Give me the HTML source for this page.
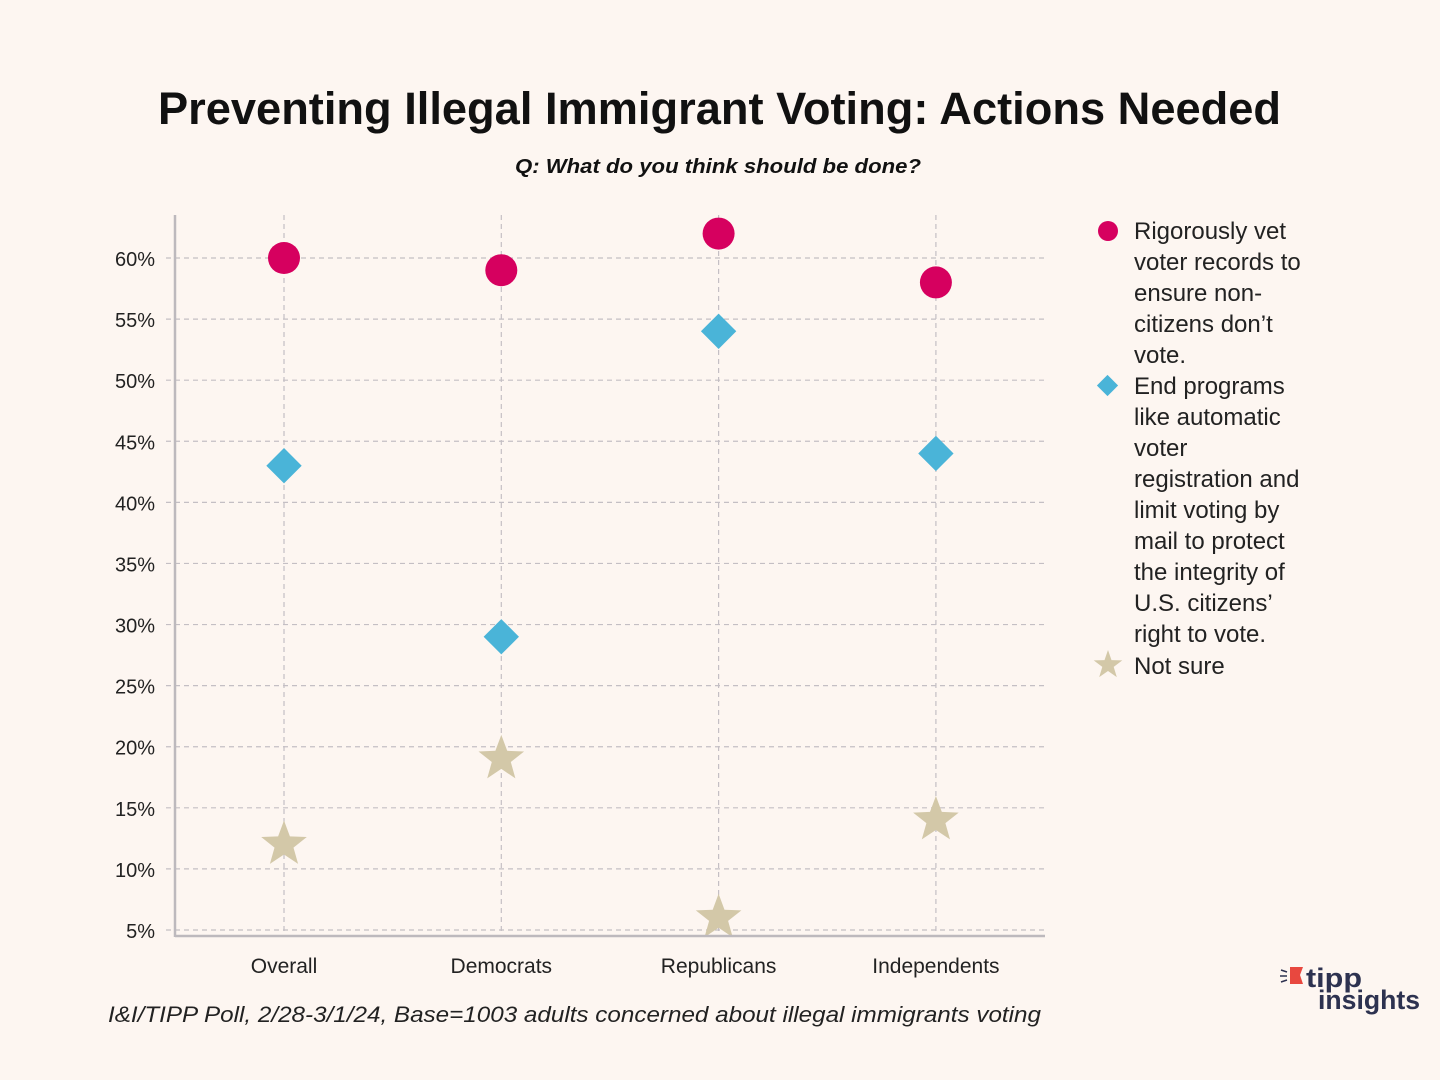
<!DOCTYPE html>
<html><head><meta charset="utf-8"><style>
body{margin:0;background:#fdf6f1;}
svg{display:block;font-family:"Liberation Sans",sans-serif;}
</style></head><body>
<svg id="chart" width="1440" height="1080" viewBox="0 0 1440 1080">
<rect width="1440" height="1080" fill="#fdf6f1"/>
<text x="158" y="124" textLength="1123" lengthAdjust="spacingAndGlyphs" font-size="45" font-weight="bold" fill="#111">Preventing Illegal Immigrant Voting: Actions Needed</text>
<text x="515" y="173" textLength="406" lengthAdjust="spacingAndGlyphs" font-size="20" font-style="italic" font-weight="bold" fill="#111">Q: What do you think should be done?</text>
<g id="grid"></g>
<g id="marks"></g>
<line x1="175" y1="215" x2="175" y2="937" stroke="#bdb9bd" stroke-width="2.5"/>
<line x1="175" y1="936" x2="1045" y2="936" stroke="#bdb9bd" stroke-width="2.5"/>
<g font-size="24" fill="#222">
<g>
<circle cx="1108" cy="231" r="10" fill="#d6005f"/>
<text x="1134" y="239">Rigorously vet</text><text x="1134" y="270">voter records to</text><text x="1134" y="301">ensure non-</text><text x="1134" y="332">citizens don’t</text><text x="1134" y="363">vote.</text></g>
<g>
<rect x="1100" y="378" width="15" height="15" fill="#4ab4d8" transform="rotate(45 1107.5 385.5)"/>
<text x="1134" y="394">End programs</text><text x="1134" y="425">like automatic</text><text x="1134" y="456">voter</text><text x="1134" y="487">registration and</text><text x="1134" y="518">limit voting by</text><text x="1134" y="549">mail to protect</text><text x="1134" y="580">the integrity of</text><text x="1134" y="611">U.S. citizens’</text><text x="1134" y="642">right to vote.</text></g>
<g>
<polygon id="legstar" fill="#d3c8a8"/>
<text x="1134" y="674">Not sure</text></g>
</g>
<text x="108" y="1022" textLength="933" lengthAdjust="spacingAndGlyphs" font-size="22" font-style="italic" fill="#222">I&amp;I/TIPP Poll, 2/28-3/1/24, Base=1003 adults concerned about illegal immigrants voting</text>
<g>
<path d="M1281,970 l6,2 M1280,976 h7 M1281,982 l6,-2" stroke="#2d3250" stroke-width="1.5"/>
<polygon points="1290,967 1303,967 1300,975 1303,984 1290,984" fill="#e8483f"/>
<text x="1306" y="987" font-size="27" font-weight="bold" fill="#2d3250" textLength="56" lengthAdjust="spacingAndGlyphs">tipp</text>
<text x="1318" y="1009" font-size="27" font-weight="bold" fill="#2d3250" textLength="102" lengthAdjust="spacingAndGlyphs">insights</text>
</g>
</svg>
<script>
const categories=["Overall","Democrats","Republicans","Independents"];
const vetValues=[60,59,62,58];
const endValues=[43,29,54,44];
const notSureValues=[12,19,6,14];
const yTicks=[5,10,15,20,25,30,35,40,45,50,55,60];
const NS="http://www.w3.org/2000/svg";
function yScale(v){return 258+(60-v)*12.218;}
function xScale(i){return 284+i*217.3;}
function mk(t,a,p){const e=document.createElementNS(NS,t);for(const k in a)e.setAttribute(k,a[k]);p.appendChild(e);return e;}
function starPts(cx,cy,R,r){let p=[];for(let i=0;i<10;i++){const a=-Math.PI/2+i*Math.PI/5;const rr=i%2?r:R;p.push((cx+rr*Math.cos(a)).toFixed(1)+","+(cy+rr*Math.sin(a)).toFixed(1));}return p.join(" ");}
const grid=document.getElementById('grid'),marks=document.getElementById('marks');
yTicks.forEach(v=>{const y=yScale(v);
const l=mk('line',{x1:166,x2:1045,y1:y,y2:y,stroke:'#c4bfc4','stroke-width':1.2,'stroke-dasharray':'5,4'},grid);


const t=mk('text',{x:155,y:y+8,'text-anchor':'end','font-size':20,fill:'#222'},grid);t.textContent=v+'%';

});
categories.forEach((c,i)=>{const x=xScale(i);
const l=mk('line',{x1:x,x2:x,y1:215,y2:936,stroke:'#c4bfc4','stroke-width':1.2,'stroke-dasharray':'5,4'},grid);


const t=mk('text',{x:x,y:973,'text-anchor':'middle','font-size':21,fill:'#222'},grid);t.textContent=c;


const s=mk('polygon',{points:starPts(x,yScale(notSureValues[i]),24,10),fill:'#d3c8a8'},marks);


const y2=yScale(endValues[i]);
const d=mk('rect',{x:x-12.5,y:y2-12.5,width:25,height:25,fill:'#4ab4d8',transform:`rotate(45 ${x} ${y2})`},marks);


const cc=mk('circle',{cx:x,cy:yScale(vetValues[i]),r:16,fill:'#d6005f'},marks);

});
document.getElementById('legstar').setAttribute('points',starPts(1108,665,15,6));
</script>
</body></html>
